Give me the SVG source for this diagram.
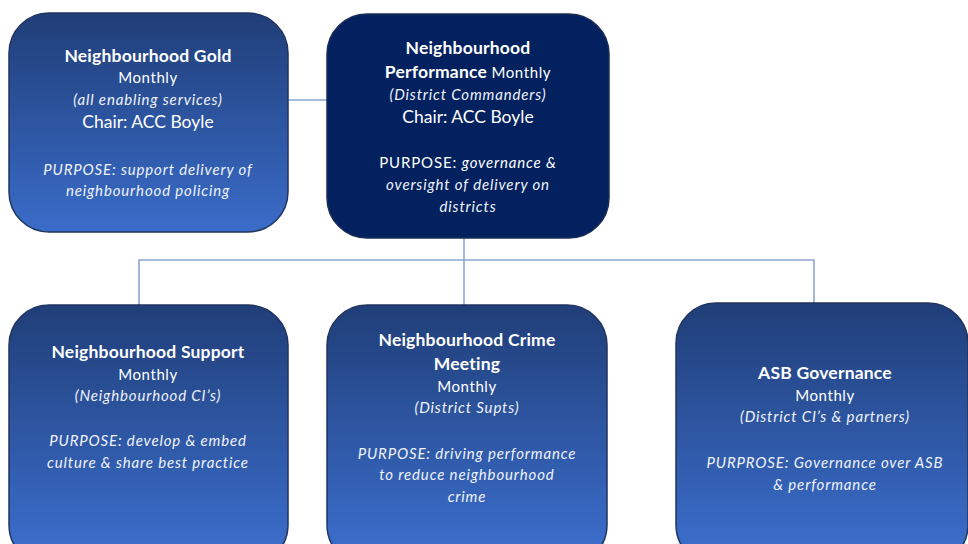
<svg xmlns="http://www.w3.org/2000/svg" width="968" height="544" viewBox="0 0 968 544">
<defs>
<linearGradient id="g" x1="0" y1="0" x2="0" y2="1">
<stop offset="0" stop-color="#203E78"/>
<stop offset="1" stop-color="#3A6CC9"/>
</linearGradient>
<linearGradient id="gb" x1="0" y1="0" x2="0" y2="1">
<stop offset="0" stop-color="#203E78"/>
<stop offset="0.92" stop-color="#3A6CC9"/>
<stop offset="1" stop-color="#3A6CC9"/>
</linearGradient>
<style>
.box{fill:url(#g);stroke:#22355F;stroke-width:1.5}
.boxb{fill:url(#gb);stroke:#22355F;stroke-width:1.5}
.dark{fill:#03215E;stroke:#1A2C55;stroke-width:1.5}
text{font-family:Lato,"Open Sans","Liberation Sans",sans-serif;fill:#FFFFFF;text-anchor:middle}
.t{font-weight:bold;font-size:17.5px;letter-spacing:0.2px}
.m{font-size:15px;letter-spacing:0.6px}
.i{font-style:italic;font-size:15px;letter-spacing:0.85px;fill:#EEF2FA}
.c{font-size:17.5px}
.conn{fill:none;stroke:#8DA6D4;stroke-width:1.6}
</style>
</defs>
<rect width="968" height="544" fill="#FFFFFF"/>
<g id="connectors">
<line class="conn" x1="288" y1="100" x2="328" y2="100"/>
<line class="conn" x1="464" y1="238" x2="464" y2="305"/>
<polyline class="conn" points="139,305 139,260 814,260 814,303"/>
</g>
<g id="gold">
<rect class="box" x="9" y="13" width="279" height="219" rx="40"/>
<text class="t" x="148" y="62">Neighbourhood Gold</text>
<text class="m" x="148" y="83">Monthly</text>
<text class="i" x="148" y="105">(all enabling services)</text>
<text class="c" x="148" y="128">Chair: ACC Boyle</text>
<text class="i" x="148" y="175">PURPOSE: support delivery of</text>
<text class="i" x="148" y="196">neighbourhood policing</text>
</g>
<g id="performance">
<rect class="dark" x="327" y="14" width="282" height="224" rx="40"/>
<text class="t" x="468" y="54">Neighbourhood</text>
<text x="468" y="78"><tspan class="t">Performance</tspan><tspan class="m"> Monthly</tspan></text>
<text class="i" x="468" y="100">(District Commanders)</text>
<text class="c" x="468" y="123">Chair: ACC Boyle</text>
<text x="468" y="168" font-size="15" letter-spacing="0.85"><tspan>PURPOSE: </tspan><tspan font-style="italic">governance &amp;</tspan></text>
<text class="i" x="468" y="190">oversight of delivery on</text>
<text class="i" x="468" y="212">districts</text>
</g>
<g id="support">
<rect class="boxb" x="9" y="305" width="279" height="260" rx="40"/>
<text class="t" x="148" y="358">Neighbourhood Support</text>
<text class="m" x="148" y="380">Monthly</text>
<text class="i" x="148" y="401">(Neighbourhood CI’s)</text>
<text class="i" x="148" y="446">PURPOSE: develop &amp; embed</text>
<text class="i" x="148" y="468">culture &amp; share best practice</text>
</g>
<g id="crime">
<rect class="boxb" x="327" y="305" width="280" height="260" rx="40"/>
<text class="t" x="467" y="346">Neighbourhood Crime</text>
<text class="t" x="467" y="370">Meeting</text>
<text class="m" x="467" y="392">Monthly</text>
<text class="i" x="467" y="413">(District Supts)</text>
<text class="i" x="467" y="459">PURPOSE: driving performance</text>
<text class="i" x="467" y="480">to reduce neighbourhood</text>
<text class="i" x="467" y="502">crime</text>
</g>
<g id="asb">
<rect class="boxb" x="676" y="303" width="292" height="262" rx="40"/>
<text class="t" x="825" y="379">ASB Governance</text>
<text class="m" x="825" y="401">Monthly</text>
<text class="i" x="825" y="422">(District CI’s &amp; partners)</text>
<text class="i" x="825" y="468">PURPROSE: Governance over ASB</text>
<text class="i" x="825" y="490">&amp; performance</text>
</g>
</svg>
